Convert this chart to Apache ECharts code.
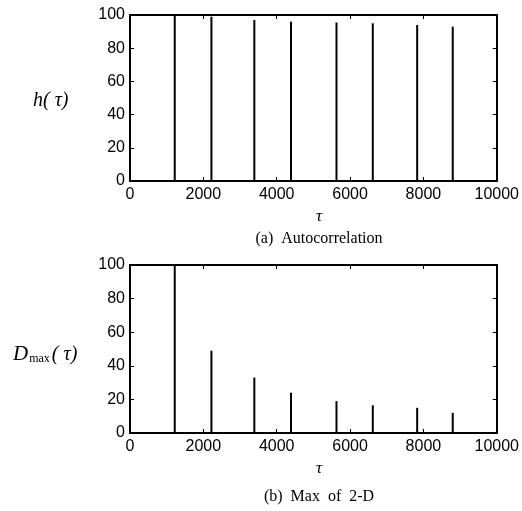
<!DOCTYPE html>
<html>
<head>
<meta charset="utf-8">
<script src="https://cdn.jsdelivr.net/npm/echarts@6/dist/echarts.min.js"></script>
<style>
html, body { margin: 0; padding: 0; background: #fff; }
#chart { width: 522px; height: 511px; }
</style>
</head>
<body>
<div id="chart"></div>
<script>
// spike positions (tau) and heights
var tau = [1220, 2220, 3390, 4390, 5630, 6620, 7830, 8800];
var autoCorr = [100, 99, 97, 96, 95.5, 95, 94, 93];
var dMax = [100, 49, 33, 24, 19, 16.5, 15, 12];
var xTicks = [0, 2000, 4000, 6000, 8000, 10000];
var yTicks = [0, 20, 40, 60, 80, 100];

var chart = echarts.init(document.getElementById('chart'));

function pairs(xs, ys) {
    var out = [];
    for (var i = 0; i < xs.length; i++) out.push([xs[i], ys[i]]);
    return out;
}

var lbl = { color: '#000', fontSize: 16, fontFamily: 'Liberation Sans, Arial, sans-serif',
            formatter: function (v) { return String(v); } };
var line = { show: true, onZero: false, lineStyle: { color: '#000', width: 2 } };
var tick = { show: true, inside: true, length: 4, lineStyle: { color: '#000', width: 1 } };

function xAx(grid, pos, labels) {
    return {
        type: 'value', gridIndex: grid, position: pos,
        min: xTicks[0], max: xTicks[xTicks.length - 1], interval: xTicks[1] - xTicks[0],
        axisLine: line, axisTick: tick,
        axisLabel: labels ? Object.assign({ margin: 6 }, lbl) : { show: false },
        splitLine: { show: false }
    };
}
function yAx(grid, pos, labels) {
    return {
        type: 'value', gridIndex: grid, position: pos,
        min: yTicks[0], max: yTicks[yTicks.length - 1], interval: yTicks[1] - yTicks[0],
        axisLine: line, axisTick: tick,
        axisLabel: labels ? Object.assign({ margin: 5 }, lbl) : { show: false },
        splitLine: { show: false }
    };
}

var serif = 'Liberation Serif, Times New Roman, serif';

option = {
    animation: false,
    backgroundColor: '#fff',
    grid: [
        { left: 130, top: 15, width: 368, height: 166 },
        { left: 130, top: 265, width: 368, height: 168 }
    ],
    xAxis: [xAx(0, 'bottom', true), xAx(0, 'top', false), xAx(1, 'bottom', true), xAx(1, 'top', false)],
    yAxis: [yAx(0, 'left', true), yAx(0, 'right', false), yAx(1, 'left', true), yAx(1, 'right', false)],
    title: [
        { text: '(a)  Autocorrelation', left: 314, top: 226, textAlign: 'center',
          textStyle: { fontFamily: serif, fontSize: 16, fontWeight: 'normal', color: '#000' } },
        { text: '(b)  Max  of  2-D', left: 314, top: 484, textAlign: 'center',
          textStyle: { fontFamily: serif, fontSize: 16, fontWeight: 'normal', color: '#000' } },
        { text: 'τ', left: 314, top: 203, textAlign: 'center',
          textStyle: { fontFamily: serif, fontStyle: 'italic', fontSize: 17, fontWeight: 'normal', color: '#000' } },
        { text: 'τ', left: 314, top: 455, textAlign: 'center',
          textStyle: { fontFamily: serif, fontStyle: 'italic', fontSize: 17, fontWeight: 'normal', color: '#000' } },
        { text: 'h( τ)', left: 28, top: 86,
          textStyle: { fontFamily: serif, fontStyle: 'italic', fontSize: 20, fontWeight: 'normal', color: '#000' } },
        { text: '{d|D}{s|max}{p|( τ)}', left: 8, top: 339,
          textStyle: { fontWeight: 'normal', rich: {
              d: { fontFamily: serif, fontStyle: 'italic', fontWeight: 'normal', fontSize: 21, color: '#000' },
              s: { fontFamily: serif, fontWeight: 'normal', fontSize: 12, color: '#000', verticalAlign: 'bottom', padding: [6, 2, 0, 1] },
              p: { fontFamily: serif, fontStyle: 'italic', fontWeight: 'normal', fontSize: 20, color: '#000' }
          } } }
    ],
    series: [
        { type: 'bar', xAxisIndex: 0, yAxisIndex: 0, barWidth: 2,
          itemStyle: { color: '#000' }, data: pairs(tau, autoCorr) },
        { type: 'bar', xAxisIndex: 2, yAxisIndex: 2, barWidth: 2,
          itemStyle: { color: '#000' }, data: pairs(tau, dMax) }
    ]
};
chart.setOption(option);
</script>
</body>
</html>
